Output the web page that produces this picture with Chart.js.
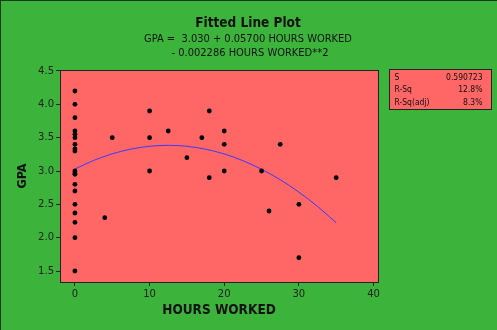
<!DOCTYPE html>
<html>
<head>
<meta charset="utf-8">
<script src="https://cdn.jsdelivr.net/npm/chart.js@4"></script>
<style>
html,body{margin:0;padding:0;background:#3cb43c;}
#wrap{position:relative;width:497px;height:330px;box-sizing:border-box;border-top:1px solid #1a3a1a;border-left:1px solid #1a3a1a;}
canvas{display:block;}
</style>
</head>
<body>
<div id="wrap"><canvas id="c" width="496" height="329"></canvas></div>
<script>
// Scatter data (hours worked, GPA)
const hoursWorked = [0,0,0,0,0,0,0,0,0,0,0,0,0,0,0,0,0,0,0,
  4,5,10,10,10,12.5,15,17,18,18,20,20,20,25,26,27.5,30,30,35];
const gpa = [4.2,4.0,3.8,3.6,3.55,3.5,3.4,3.33,3.3,3.0,2.97,2.95,2.8,2.7,2.5,2.37,2.23,2.0,1.5,
  2.3,3.5,3.9,3.5,3.0,3.6,3.2,3.5,3.9,2.9,3.6,3.4,3.0,3.0,2.4,3.4,2.5,1.7,2.9];
// Fitted line values
const fitHours = [0,2.5,5,7.5,10,12.5,15,17.5,20,22.5,25,27.5,30,32.5,35];
const fitGpa = [3.030,3.158,3.258,3.329,3.371,3.385,3.371,3.327,3.256,3.155,3.026,2.869,2.683,2.468,2.225];
// Tick labels
const xTicks = [0,10,20,30,40];
const yTicks = [1.5,2.0,2.5,3.0,3.5,4.0,4.5];
// Text
const titleText = "Fitted Line Plot";
const subLines = ["GPA =  3.030 + 0.05700 HOURS WORKED", "- 0.002286 HOURS WORKED**2"];
const statLabels = ["S","R-Sq","R-Sq(adj)"];
const statValues = ["0.590723","12.8%","8.3%"];

const FONT = "'DejaVu Sans', Verdana, sans-serif";
const CFONT = "'DejaVu Sans Condensed', 'DejaVu Sans', sans-serif";
const SALMON = "#ff6666";

const bgPlugin = {
  id:'bg',
  beforeDraw(chart){
    const {ctx, chartArea:a} = chart;
    ctx.save();
    ctx.fillStyle = SALMON;
    ctx.fillRect(a.left, a.top, a.right-a.left, a.bottom-a.top);
    ctx.restore();
  },
  afterDatasetsDraw(chart){
    const {ctx, chartArea:a} = chart;
    ctx.save();
    ctx.strokeStyle = "#222";
    ctx.lineWidth = 1;
    ctx.strokeRect(Math.round(a.left)+0.5, Math.round(a.top)+0.5, Math.round(a.right-a.left), Math.round(a.bottom-a.top));
    // title
    ctx.fillStyle = "#111";
    ctx.textAlign = "center";
    ctx.textBaseline = "middle";
    ctx.font = "bold 13.5px " + CFONT;
    ctx.fillText(titleText, 247, 22);
    ctx.font = "11px " + CFONT;
    ctx.fillText(subLines[0], 247, 38);
    ctx.fillText(subLines[1], 249, 52);
    // stats box
    const bx = 388.5, by = 68.5, bw = 102, bh = 40;
    ctx.fillStyle = SALMON;
    ctx.fillRect(bx, by, bw, bh);
    ctx.strokeStyle = "#222";
    ctx.strokeRect(bx, by, bw, bh);
    ctx.font = "8.5px " + CFONT;
    ctx.fillStyle = "#111";
    for (let i=0;i<statLabels.length;i++){
      const yy = 76.5 + i*12.5;
      ctx.textAlign = "left";
      ctx.fillText(statLabels[i], bx+5, yy);
      ctx.textAlign = "right";
      ctx.fillText(statValues[i], bx+bw-9, yy);
    }
    ctx.restore();
  }
};

new Chart(document.getElementById('c'), {
  type:'scatter',
  data:{
    datasets:[
      {
        type:'line',
        data: fitHours.map((x,i)=>({x, y: fitGpa[i]})),
        borderColor:'#3a3aff',
        borderWidth:1,
        pointRadius:0,
        tension:0.4,
        cubicInterpolationMode:'monotone',
        fill:false,
        order:1
      },
      {
        data: hoursWorked.map((x,i)=>({x, y: gpa[i]})),
        backgroundColor:'#000',
        borderColor:'#000',
        pointRadius:2.4,
        pointBorderWidth:0,
        order:0
      }
    ]
  },
  options:{
    responsive:false,
    animation:false,
    devicePixelRatio:1,
    layout:{padding:{top:69, right:119, left:0, bottom:0}},
    plugins:{legend:{display:false}, tooltip:{enabled:false}},
    scales:{
      x:{
        type:'linear', min:-2.0, max:40.6,
        afterBuildTicks(s){ s.ticks = xTicks.map(v=>({value:v})); },
        afterFit(s){ s.height = 48; },
        grid:{drawOnChartArea:false, drawTicks:true, tickLength:4, color:'#222'},
        border:{display:false},
        ticks:{color:'#222', font:{family:FONT, size:10}, padding:2, callback:v=>String(v)},
        title:{display:true, text:'HOURS WORKED', color:'#111', font:{family:CFONT, size:13.5, weight:'bold'}, padding:{top:0, bottom:11}}
      },
      y:{
        type:'linear', min:1.335, max:4.515,
        afterBuildTicks(s){ s.ticks = yTicks.map(v=>({value:v})); },
        afterFit(s){ s.width = 59; },
        grid:{drawOnChartArea:false, drawTicks:true, tickLength:4, color:'#222'},
        border:{display:false},
        ticks:{color:'#222', font:{family:FONT, size:10}, padding:2, callback:v=>Number(v).toFixed(1)},
        title:{display:true, text:'GPA', color:'#111', font:{family:CFONT, size:12.5, weight:'bold'}, padding:{top:14, bottom:0}}
      }
    }
  },
  plugins:[bgPlugin]
});
</script>
</body>
</html>
